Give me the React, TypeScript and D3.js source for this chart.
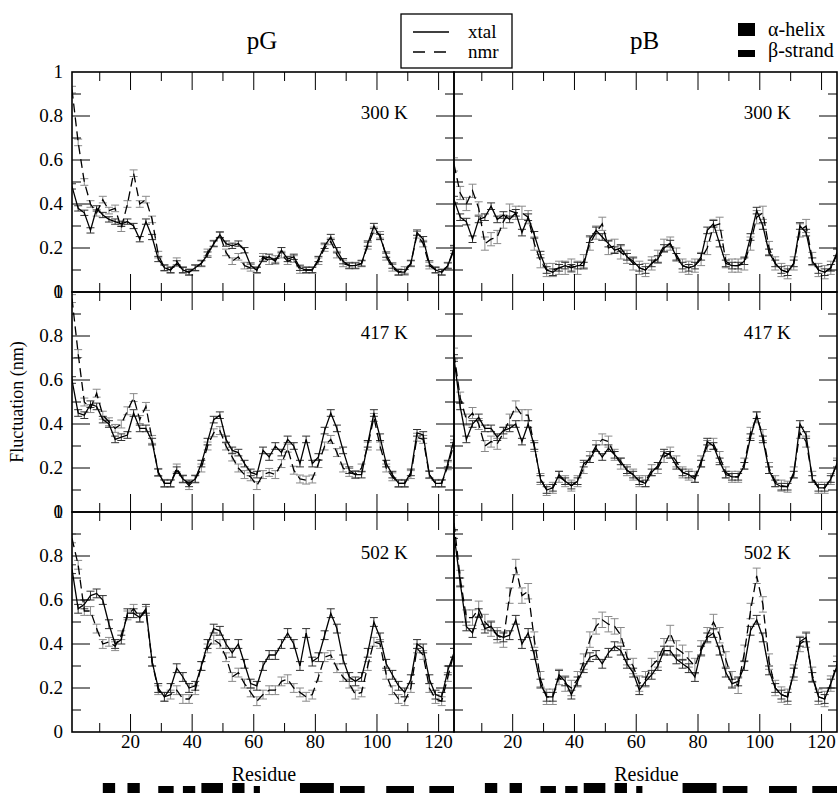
import React, { useEffect, useRef } from 'react';
import * as d3 from 'd3';

// residue numbers of the sampled points (every second residue)
const residues = d3.range(1, 126, 2);

// fluctuation (nm) per residue
const pG300xtal = [0.48, 0.38, 0.36, 0.28, 0.38, 0.35, 0.33, 0.32, 0.31, 0.32,
  0.30, 0.24, 0.32, 0.25, 0.15, 0.11, 0.10, 0.13, 0.10, 0.09,
  0.11, 0.13, 0.17, 0.22, 0.26, 0.22, 0.21, 0.22, 0.19, 0.12,
  0.10, 0.15, 0.16, 0.14, 0.19, 0.15, 0.16, 0.11, 0.10, 0.10,
  0.15, 0.21, 0.25, 0.19, 0.14, 0.12, 0.12, 0.13, 0.22, 0.30,
  0.25, 0.17, 0.12, 0.09, 0.09, 0.13, 0.27, 0.24, 0.13, 0.10,
  0.09, 0.12, 0.20];
const pG300nmr = [0.92, 0.68, 0.50, 0.40, 0.36, 0.42, 0.37, 0.38, 0.29, 0.40,
  0.54, 0.40, 0.42, 0.33, 0.17, 0.11, 0.10, 0.14, 0.10, 0.09,
  0.11, 0.13, 0.18, 0.22, 0.26, 0.18, 0.14, 0.16, 0.12, 0.11,
  0.10, 0.16, 0.14, 0.15, 0.17, 0.14, 0.15, 0.10, 0.10, 0.10,
  0.14, 0.20, 0.23, 0.17, 0.13, 0.12, 0.12, 0.13, 0.21, 0.28,
  0.26, 0.16, 0.11, 0.09, 0.10, 0.13, 0.26, 0.22, 0.12, 0.10,
  0.09, 0.12, 0.19];
const pB300xtal = [0.42, 0.34, 0.32, 0.24, 0.33, 0.34, 0.39, 0.33, 0.35, 0.33,
  0.36, 0.27, 0.34, 0.26, 0.17, 0.10, 0.09, 0.11, 0.12, 0.11,
  0.12, 0.12, 0.24, 0.28, 0.25, 0.22, 0.19, 0.20, 0.16, 0.14,
  0.11, 0.10, 0.13, 0.15, 0.20, 0.22, 0.16, 0.12, 0.11, 0.12,
  0.16, 0.28, 0.31, 0.22, 0.13, 0.12, 0.12, 0.14, 0.25, 0.37,
  0.30, 0.18, 0.13, 0.10, 0.09, 0.13, 0.30, 0.27, 0.14, 0.10,
  0.09, 0.11, 0.18];
const pB300nmr = [0.58, 0.45, 0.40, 0.46, 0.38, 0.22, 0.24, 0.25, 0.32, 0.37,
  0.36, 0.36, 0.34, 0.22, 0.14, 0.10, 0.10, 0.11, 0.11, 0.12,
  0.11, 0.14, 0.22, 0.27, 0.31, 0.20, 0.21, 0.18, 0.16, 0.13,
  0.11, 0.10, 0.13, 0.16, 0.21, 0.22, 0.17, 0.12, 0.11, 0.12,
  0.15, 0.20, 0.30, 0.31, 0.14, 0.12, 0.12, 0.13, 0.22, 0.34,
  0.36, 0.20, 0.13, 0.10, 0.09, 0.13, 0.28, 0.30, 0.15, 0.10,
  0.09, 0.11, 0.17];
const pG417xtal = [0.60, 0.45, 0.44, 0.49, 0.48, 0.42, 0.40, 0.33, 0.34, 0.35,
  0.45, 0.38, 0.38, 0.32, 0.18, 0.13, 0.13, 0.19, 0.15, 0.13,
  0.15, 0.22, 0.32, 0.42, 0.44, 0.33, 0.28, 0.27, 0.22, 0.18,
  0.17, 0.28, 0.25, 0.30, 0.27, 0.33, 0.30, 0.22, 0.33, 0.22,
  0.25, 0.37, 0.45, 0.38, 0.28, 0.19, 0.17, 0.17, 0.31, 0.45,
  0.34, 0.22, 0.17, 0.13, 0.13, 0.18, 0.36, 0.35, 0.17, 0.13,
  0.13, 0.22, 0.33];
const pG417nmr = [0.97, 0.72, 0.50, 0.47, 0.54, 0.44, 0.41, 0.38, 0.40, 0.46,
  0.52, 0.42, 0.48, 0.33, 0.18, 0.13, 0.13, 0.20, 0.15, 0.12,
  0.15, 0.20, 0.30, 0.36, 0.37, 0.30, 0.25, 0.20, 0.17, 0.16,
  0.12, 0.17, 0.18, 0.17, 0.22, 0.29, 0.19, 0.15, 0.145, 0.15,
  0.22, 0.30, 0.33, 0.27, 0.20, 0.18, 0.17, 0.20, 0.30, 0.43,
  0.30, 0.20, 0.16, 0.13, 0.13, 0.17, 0.34, 0.33, 0.17, 0.13,
  0.13, 0.21, 0.31];
const pB417xtal = [0.70, 0.48, 0.33, 0.40, 0.43, 0.38, 0.38, 0.34, 0.37, 0.38,
  0.40, 0.32, 0.40, 0.30, 0.15, 0.10, 0.11, 0.17, 0.14, 0.12,
  0.14, 0.22, 0.24, 0.29, 0.25, 0.29, 0.26, 0.23, 0.19, 0.17,
  0.14, 0.13, 0.18, 0.21, 0.27, 0.26, 0.21, 0.18, 0.17, 0.15,
  0.22, 0.32, 0.30, 0.23, 0.17, 0.16, 0.16, 0.21, 0.34, 0.44,
  0.33, 0.19, 0.13, 0.115, 0.115, 0.17, 0.40, 0.35, 0.15, 0.11,
  0.11, 0.15, 0.22];
const pB417nmr = [0.72, 0.52, 0.42, 0.45, 0.40, 0.30, 0.32, 0.31, 0.36, 0.42,
  0.48, 0.44, 0.44, 0.30, 0.15, 0.10, 0.11, 0.16, 0.14, 0.12,
  0.14, 0.20, 0.25, 0.30, 0.33, 0.32, 0.26, 0.22, 0.19, 0.17,
  0.14, 0.14, 0.19, 0.20, 0.25, 0.27, 0.23, 0.18, 0.17, 0.16,
  0.23, 0.30, 0.31, 0.25, 0.18, 0.16, 0.16, 0.22, 0.36, 0.43,
  0.35, 0.20, 0.14, 0.12, 0.115, 0.18, 0.36, 0.32, 0.16, 0.11,
  0.11, 0.15, 0.22];
const pG502xtal = [0.74, 0.56, 0.58, 0.62, 0.63, 0.60, 0.49, 0.40, 0.42, 0.54,
  0.54, 0.52, 0.56, 0.32, 0.20, 0.16, 0.20, 0.29, 0.25, 0.20,
  0.21, 0.30, 0.40, 0.47, 0.46, 0.40, 0.36, 0.40, 0.31, 0.22,
  0.21, 0.30, 0.35, 0.35, 0.40, 0.45, 0.40, 0.30, 0.45, 0.32,
  0.34, 0.44, 0.54, 0.47, 0.33, 0.25, 0.23, 0.25, 0.36, 0.50,
  0.43, 0.31, 0.26, 0.21, 0.18, 0.24, 0.40, 0.38, 0.24, 0.17,
  0.16, 0.28, 0.36];
const pG502nmr = [0.88, 0.76, 0.55, 0.55, 0.47, 0.40, 0.41, 0.39, 0.44, 0.53,
  0.56, 0.52, 0.55, 0.32, 0.19, 0.16, 0.17, 0.19, 0.15, 0.15,
  0.19, 0.30, 0.38, 0.42, 0.40, 0.34, 0.25, 0.27, 0.22, 0.18,
  0.14, 0.17, 0.19, 0.19, 0.23, 0.24, 0.20, 0.18, 0.16, 0.17,
  0.25, 0.34, 0.35, 0.29, 0.25, 0.22, 0.17, 0.18, 0.30, 0.41,
  0.40, 0.26, 0.19, 0.15, 0.14, 0.20, 0.38, 0.35, 0.20, 0.15,
  0.14, 0.25, 0.36];
const pB502xtal = [0.90, 0.68, 0.48, 0.45, 0.54, 0.47, 0.48, 0.44, 0.43, 0.44,
  0.51, 0.40, 0.45, 0.35, 0.22, 0.16, 0.16, 0.26, 0.23, 0.17,
  0.23, 0.29, 0.34, 0.35, 0.31, 0.36, 0.39, 0.37, 0.31, 0.27,
  0.19, 0.23, 0.26, 0.30, 0.37, 0.37, 0.33, 0.31, 0.29, 0.25,
  0.37, 0.43, 0.45, 0.37, 0.27, 0.22, 0.23, 0.30, 0.46, 0.51,
  0.43, 0.28, 0.20, 0.17, 0.16, 0.27, 0.41, 0.43, 0.25, 0.16,
  0.15, 0.22, 0.30];
const pB502nmr = [0.95, 0.70, 0.52, 0.52, 0.56, 0.50, 0.47, 0.44, 0.42, 0.62,
  0.75, 0.62, 0.64, 0.42, 0.24, 0.16, 0.16, 0.25, 0.22, 0.20,
  0.24, 0.32, 0.42, 0.48, 0.51, 0.49, 0.48, 0.44, 0.34, 0.30,
  0.22, 0.24, 0.30, 0.33, 0.39, 0.45, 0.38, 0.36, 0.33, 0.30,
  0.38, 0.44, 0.50, 0.44, 0.33, 0.24, 0.21, 0.36, 0.55, 0.71,
  0.58, 0.32, 0.20, 0.17, 0.16, 0.27, 0.40, 0.42, 0.26, 0.16,
  0.15, 0.22, 0.31];

// error bar half-widths per panel [xtal, nmr]
const errG = [[0.012, 0.015], [0.015, 0.018], [0.02, 0.02]];
const errB = [[0.015, 0.03], [0.015, 0.025], [0.02, 0.035]];

// secondary structure (residue ranges)
const helices = [[11, 15], [19, 23], [43, 50], [53, 57], [75, 86]];
const strands = [[29, 34], [37, 41], [60, 62], [88, 96], [103, 112], [117, 125]];

const proteins = ['pG', 'pB'];
const temperatures = ['300 K', '417 K', '502 K'];
const xTicks = [20, 40, 60, 80, 100, 120];
const yTicks = [0, 0.2, 0.4, 0.6, 0.8, 1];
const yTickLabels = ['0', '0.2', '0.4', '0.6', '0.8', '1'];

const App = () => {
  const svgRef = useRef<SVGSVGElement>(null);

  useEffect(() => {
    const width = 839;
    const height = 793;
    const font = '"Liberation Serif", "Times New Roman", serif';
    const colLeft = [72, 454];
    const colRight = [454, 837];
    const rowTop = [72, 292, 512];
    const rowH = 220;

    const svg = d3.select(svgRef.current);
    svg.selectAll('*').remove();
    svg.attr('width', width).attr('height', height);

    const series = [
      [[pG300xtal, pG300nmr], [pB300xtal, pB300nmr]],
      [[pG417xtal, pG417nmr], [pB417xtal, pB417nmr]],
      [[pG502xtal, pG502nmr], [pB502xtal, pB502nmr]],
    ];

    const defs = svg.append('defs');

    for (let r = 0; r < 3; r++) {
      for (let c = 0; c < 2; c++) {
        const x = d3.scaleLinear().domain([1, 125]).range([colLeft[c], colRight[c]]);
        const y = d3.scaleLinear().domain([0, 1]).range([rowTop[r] + rowH, rowTop[r]]);
        const clipId = `clip-${r}-${c}`;
        defs.append('clipPath').attr('id', clipId)
          .append('rect')
          .attr('x', colLeft[c]).attr('y', rowTop[r])
          .attr('width', colRight[c] - colLeft[c]).attr('height', rowH);

        const g = svg.append('g');
        const plot = g.append('g').attr('clip-path', `url(#${clipId})`);
        const [xtal, nmr] = series[r][c];
        const errs = c === 0 ? errG[r] : errB[r];

        // error bars
        [nmr, xtal].forEach((vals, k) => {
          const e = k === 0 ? errs[1] : errs[0];
          const color = k === 0 ? '#8a8a8a' : '#333';
          const eb = plot.append('g').attr('stroke', color).attr('stroke-width', 1);
          vals.forEach((v, i) => {
            const px = x(residues[i]);
            eb.append('line').attr('x1', px).attr('x2', px)
              .attr('y1', y(v - e)).attr('y2', y(v + e));
            eb.append('line').attr('x1', px - 4).attr('x2', px + 4)
              .attr('y1', y(v + e)).attr('y2', y(v + e));
            eb.append('line').attr('x1', px - 4).attr('x2', px + 4)
              .attr('y1', y(v - e)).attr('y2', y(v - e));
          });
        });

        const line = d3.line<number>()
          .x((_, i) => x(residues[i]))
          .y((d) => y(d));

        plot.append('path').datum(nmr)
          .attr('fill', 'none').attr('stroke', '#000').attr('stroke-width', 1.3)
          .attr('stroke-dasharray', '9,5')
          .attr('d', line);
        plot.append('path').datum(xtal)
          .attr('fill', 'none').attr('stroke', '#000').attr('stroke-width', 1.3)
          .attr('d', line);

        // ticks
        const tk = g.append('g').attr('stroke', '#000').attr('stroke-width', 1);
        d3.range(10, 125, 10).forEach((t) => {
          const len = t % 20 === 0 ? 18 : 9;
          const px = x(t);
          tk.append('line').attr('x1', px).attr('x2', px)
            .attr('y1', y(1)).attr('y2', y(1) + len);
          tk.append('line').attr('x1', px).attr('x2', px)
            .attr('y1', y(0)).attr('y2', y(0) - len);
        });
        d3.range(1, 10).forEach((k) => {
          const len = k % 2 === 0 ? 18 : 9;
          const py = y(k / 10);
          tk.append('line').attr('x1', colLeft[c]).attr('x2', colLeft[c] + len)
            .attr('y1', py).attr('y2', py);
          tk.append('line').attr('x1', colRight[c]).attr('x2', colRight[c] - len)
            .attr('y1', py).attr('y2', py);
        });

        // frame
        g.append('rect')
          .attr('x', colLeft[c]).attr('y', rowTop[r])
          .attr('width', colRight[c] - colLeft[c]).attr('height', rowH)
          .attr('fill', 'none').attr('stroke', '#000').attr('stroke-width', 1.6);

        // temperature label
        g.append('text')
          .attr('x', x(110)).attr('y', y(0.785))
          .attr('text-anchor', 'end')
          .attr('font-family', font).attr('font-size', 19)
          .text(temperatures[r]);

        if (c === 0) {
          yTicks.forEach((t, i) => {
            g.append('text')
              .attr('x', 63).attr('y', y(t) + 6)
              .attr('text-anchor', 'end')
              .attr('font-family', font).attr('font-size', 19)
              .text(yTickLabels[i]);
          });
        }

        if (r === 2) {
          xTicks.forEach((t) => {
            g.append('text')
              .attr('x', x(t)).attr('y', 748)
              .attr('text-anchor', 'middle')
              .attr('font-family', font).attr('font-size', 19)
              .text(t);
          });
          g.append('text')
            .attr('x', (colLeft[c] + colRight[c]) / 2 + 1).attr('y', 781)
            .attr('text-anchor', 'middle')
            .attr('font-family', font).attr('font-size', 20)
            .text('Residue');

          // secondary structure bars
          helices.forEach(([a, b]) => {
            g.append('rect').attr('x', x(a)).attr('y', 783)
              .attr('width', x(b) - x(a)).attr('height', 12).attr('fill', '#000');
          });
          strands.forEach(([a, b]) => {
            g.append('rect').attr('x', x(a)).attr('y', 786)
              .attr('width', x(b) - x(a)).attr('height', 9).attr('fill', '#000');
          });
        }

        if (r === 0) {
          g.append('text')
            .attr('x', (colLeft[c] + colRight[c]) / 2 - 1).attr('y', 49)
            .attr('text-anchor', 'middle')
            .attr('font-family', font).attr('font-size', 25)
            .text(proteins[c]);
        }
      }
    }

    // y axis title
    svg.append('text')
      .attr('transform', 'translate(23, 402) rotate(-90)')
      .attr('text-anchor', 'middle')
      .attr('font-family', font).attr('font-size', 18)
      .text('Fluctuation (nm)');

    // line legend
    const lg = svg.append('g');
    lg.append('rect').attr('x', 401).attr('y', 14).attr('width', 111).attr('height', 54)
      .attr('fill', '#fff').attr('stroke', '#000').attr('stroke-width', 1.3);
    lg.append('line').attr('x1', 413).attr('x2', 449).attr('y1', 32).attr('y2', 32)
      .attr('stroke', '#000').attr('stroke-width', 1.3);
    lg.append('line').attr('x1', 413).attr('x2', 449).attr('y1', 52).attr('y2', 52)
      .attr('stroke', '#000').attr('stroke-width', 1.3).attr('stroke-dasharray', '12,9');
    lg.append('text').attr('x', 468).attr('y', 38)
      .attr('font-family', font).attr('font-size', 19).text('xtal');
    lg.append('text').attr('x', 468).attr('y', 58)
      .attr('font-family', font).attr('font-size', 19).text('nmr');

    // secondary structure legend
    const ss = svg.append('g');
    ss.append('rect').attr('x', 738).attr('y', 23).attr('width', 17).attr('height', 13).attr('fill', '#000');
    ss.append('rect').attr('x', 738).attr('y', 50).attr('width', 17).attr('height', 7).attr('fill', '#000');
    ss.append('text').attr('x', 768).attr('y', 36)
      .attr('font-family', font).attr('font-size', 20).text('α-helix');
    ss.append('text').attr('x', 768).attr('y', 57)
      .attr('font-family', font).attr('font-size', 20).text('β-strand');
  }, []);

  return (
    <svg ref={svgRef} style={{ position: 'absolute', left: 0, top: 0, background: '#fff' }}></svg>
  );
};

export default App;
